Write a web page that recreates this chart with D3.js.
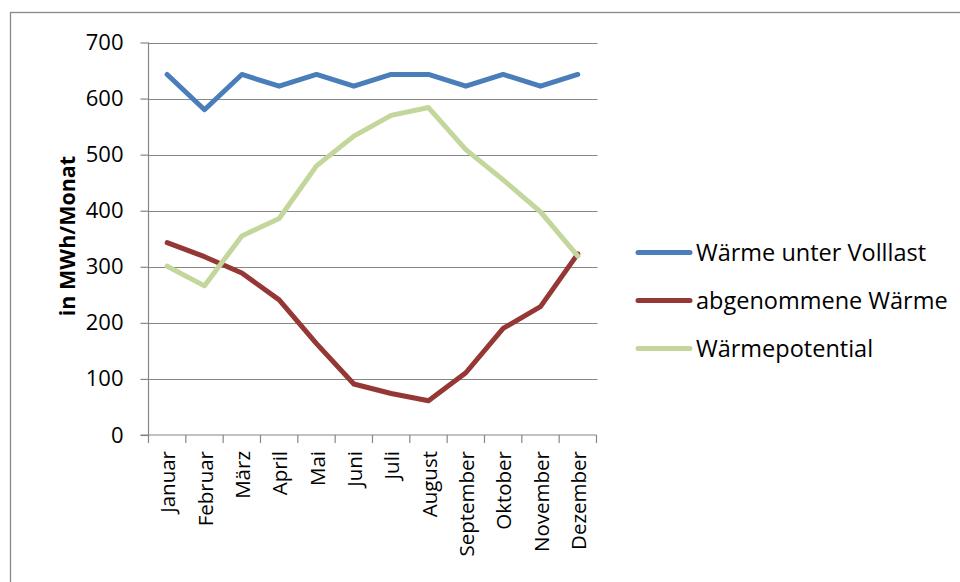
<!DOCTYPE html>
<html><head><meta charset="utf-8">
<script src="https://cdn.jsdelivr.net/npm/d3@7"></script>
<style>body{margin:0;background:#fff}svg{display:block}text{font-family:"Open Sans",sans-serif;fill:#000}</style>
</head><body><svg id="c" width="960" height="582"></svg>
<script>
const months = ["Januar","Februar","März","April","Mai","Juni","Juli","August","September","Oktober","November","Dezember"];
const seriesNames = ["Wärme unter Volllast","abgenommene Wärme","Wärmepotential"];
const waermeVolllast = [643,580,643,622,643,622,643,643,622,643,622,643];
const abgenommeneWaerme = [343,318,289,241,163,91,74,61,111,190,229,323];
const waermepotential = [301,266,355,386,480,533,570,584,509,455,398,319];
const yTicks = [0,100,200,300,400,500,600,700];
const colors = ["#4A7EBB","#953735","#C3D69B"];

const svg = d3.select("#c");
const L = 148.5, R = 596.5, T = 42.5, B = 435;
const x = d3.scaleBand().domain(months).range([L, R]);
const y = d3.scaleLinear().domain([0, 700]).range([B, T]);

// outer border
svg.append("rect").attr("x",10.5).attr("y",12.5).attr("width",1000).attr("height",1000)
  .attr("fill","none").attr("stroke","#888").attr("stroke-width",1.3);

// gridlines
svg.append("g").selectAll("line").data(yTicks.filter(d=>d>0)).join("line")
  .attr("x1",L).attr("x2",R+1).attr("y1",d=>Math.round(y(d))+0.5).attr("y2",d=>Math.round(y(d))+0.5)
  .attr("stroke","#868686").attr("stroke-width",1.2);

// y axis
const ya = svg.append("g").attr("transform",`translate(${L},0)`)
  .call(d3.axisLeft(y).tickValues(yTicks).tickSize(8).tickPadding(17));
ya.select(".domain").attr("stroke","#868686").attr("stroke-width",1.2).attr("d",`M0,${B}V${T}`);
ya.selectAll(".tick line").attr("stroke","#868686").attr("stroke-width",1.2);
ya.selectAll(".tick text").attr("font-size",22).attr("font-family","Open Sans").attr("fill","#000");

// x axis
const xa = svg.append("g").attr("transform",`translate(0,${B})`)
  .call(d3.axisBottom(x).tickSize(0));
xa.select(".domain").attr("stroke","#868686").attr("stroke-width",1.2).attr("d",`M${L-8},0H${R}`);
xa.selectAll(".tick text").remove();
xa.selectAll(".tick line").remove();
const bounds = months.map(m=>x(m)).concat([R]);
xa.append("g").selectAll("line").data(bounds).join("line")
  .attr("x1",d=>d).attr("x2",d=>d).attr("y1",0).attr("y2",8)
  .attr("stroke","#868686").attr("stroke-width",1.2);
svg.append("g").selectAll("text").data(months).join("text")
  .attr("transform",d=>`translate(${x(d)+x.bandwidth()/2+1},451) rotate(-90)`)
  .attr("text-anchor","end").attr("dy","0.35em").attr("font-size",20.5).text(d=>d);

// axis title
svg.append("text").attr("transform",`translate(75,236) rotate(-90)`)
  .attr("text-anchor","middle").attr("font-size",21.5).attr("font-weight","bold")
  .text("in MWh/Monat");

// lines
const line = d3.line().x((d,i)=>x(months[i])+x.bandwidth()/2).y(d=>y(d));
const data = [waermeVolllast, abgenommeneWaerme, waermepotential];
svg.append("g").selectAll("path").data(data).join("path")
  .attr("d",line).attr("fill","none").attr("stroke",(d,i)=>colors[i])
  .attr("stroke-width",5).attr("stroke-linejoin","round").attr("stroke-linecap","round");

// legend
const lg = svg.append("g").selectAll("g").data(seriesNames).join("g")
  .attr("transform",(d,i)=>`translate(0,${252.5+i*48})`);
lg.append("line").attr("x1",638).attr("x2",690).attr("stroke",(d,i)=>colors[i])
  .attr("stroke-width",5).attr("stroke-linecap","round");
lg.append("text").attr("x",696).attr("dy","0.35em").attr("font-size",23.5).text(d=>d);
</script></body></html>
